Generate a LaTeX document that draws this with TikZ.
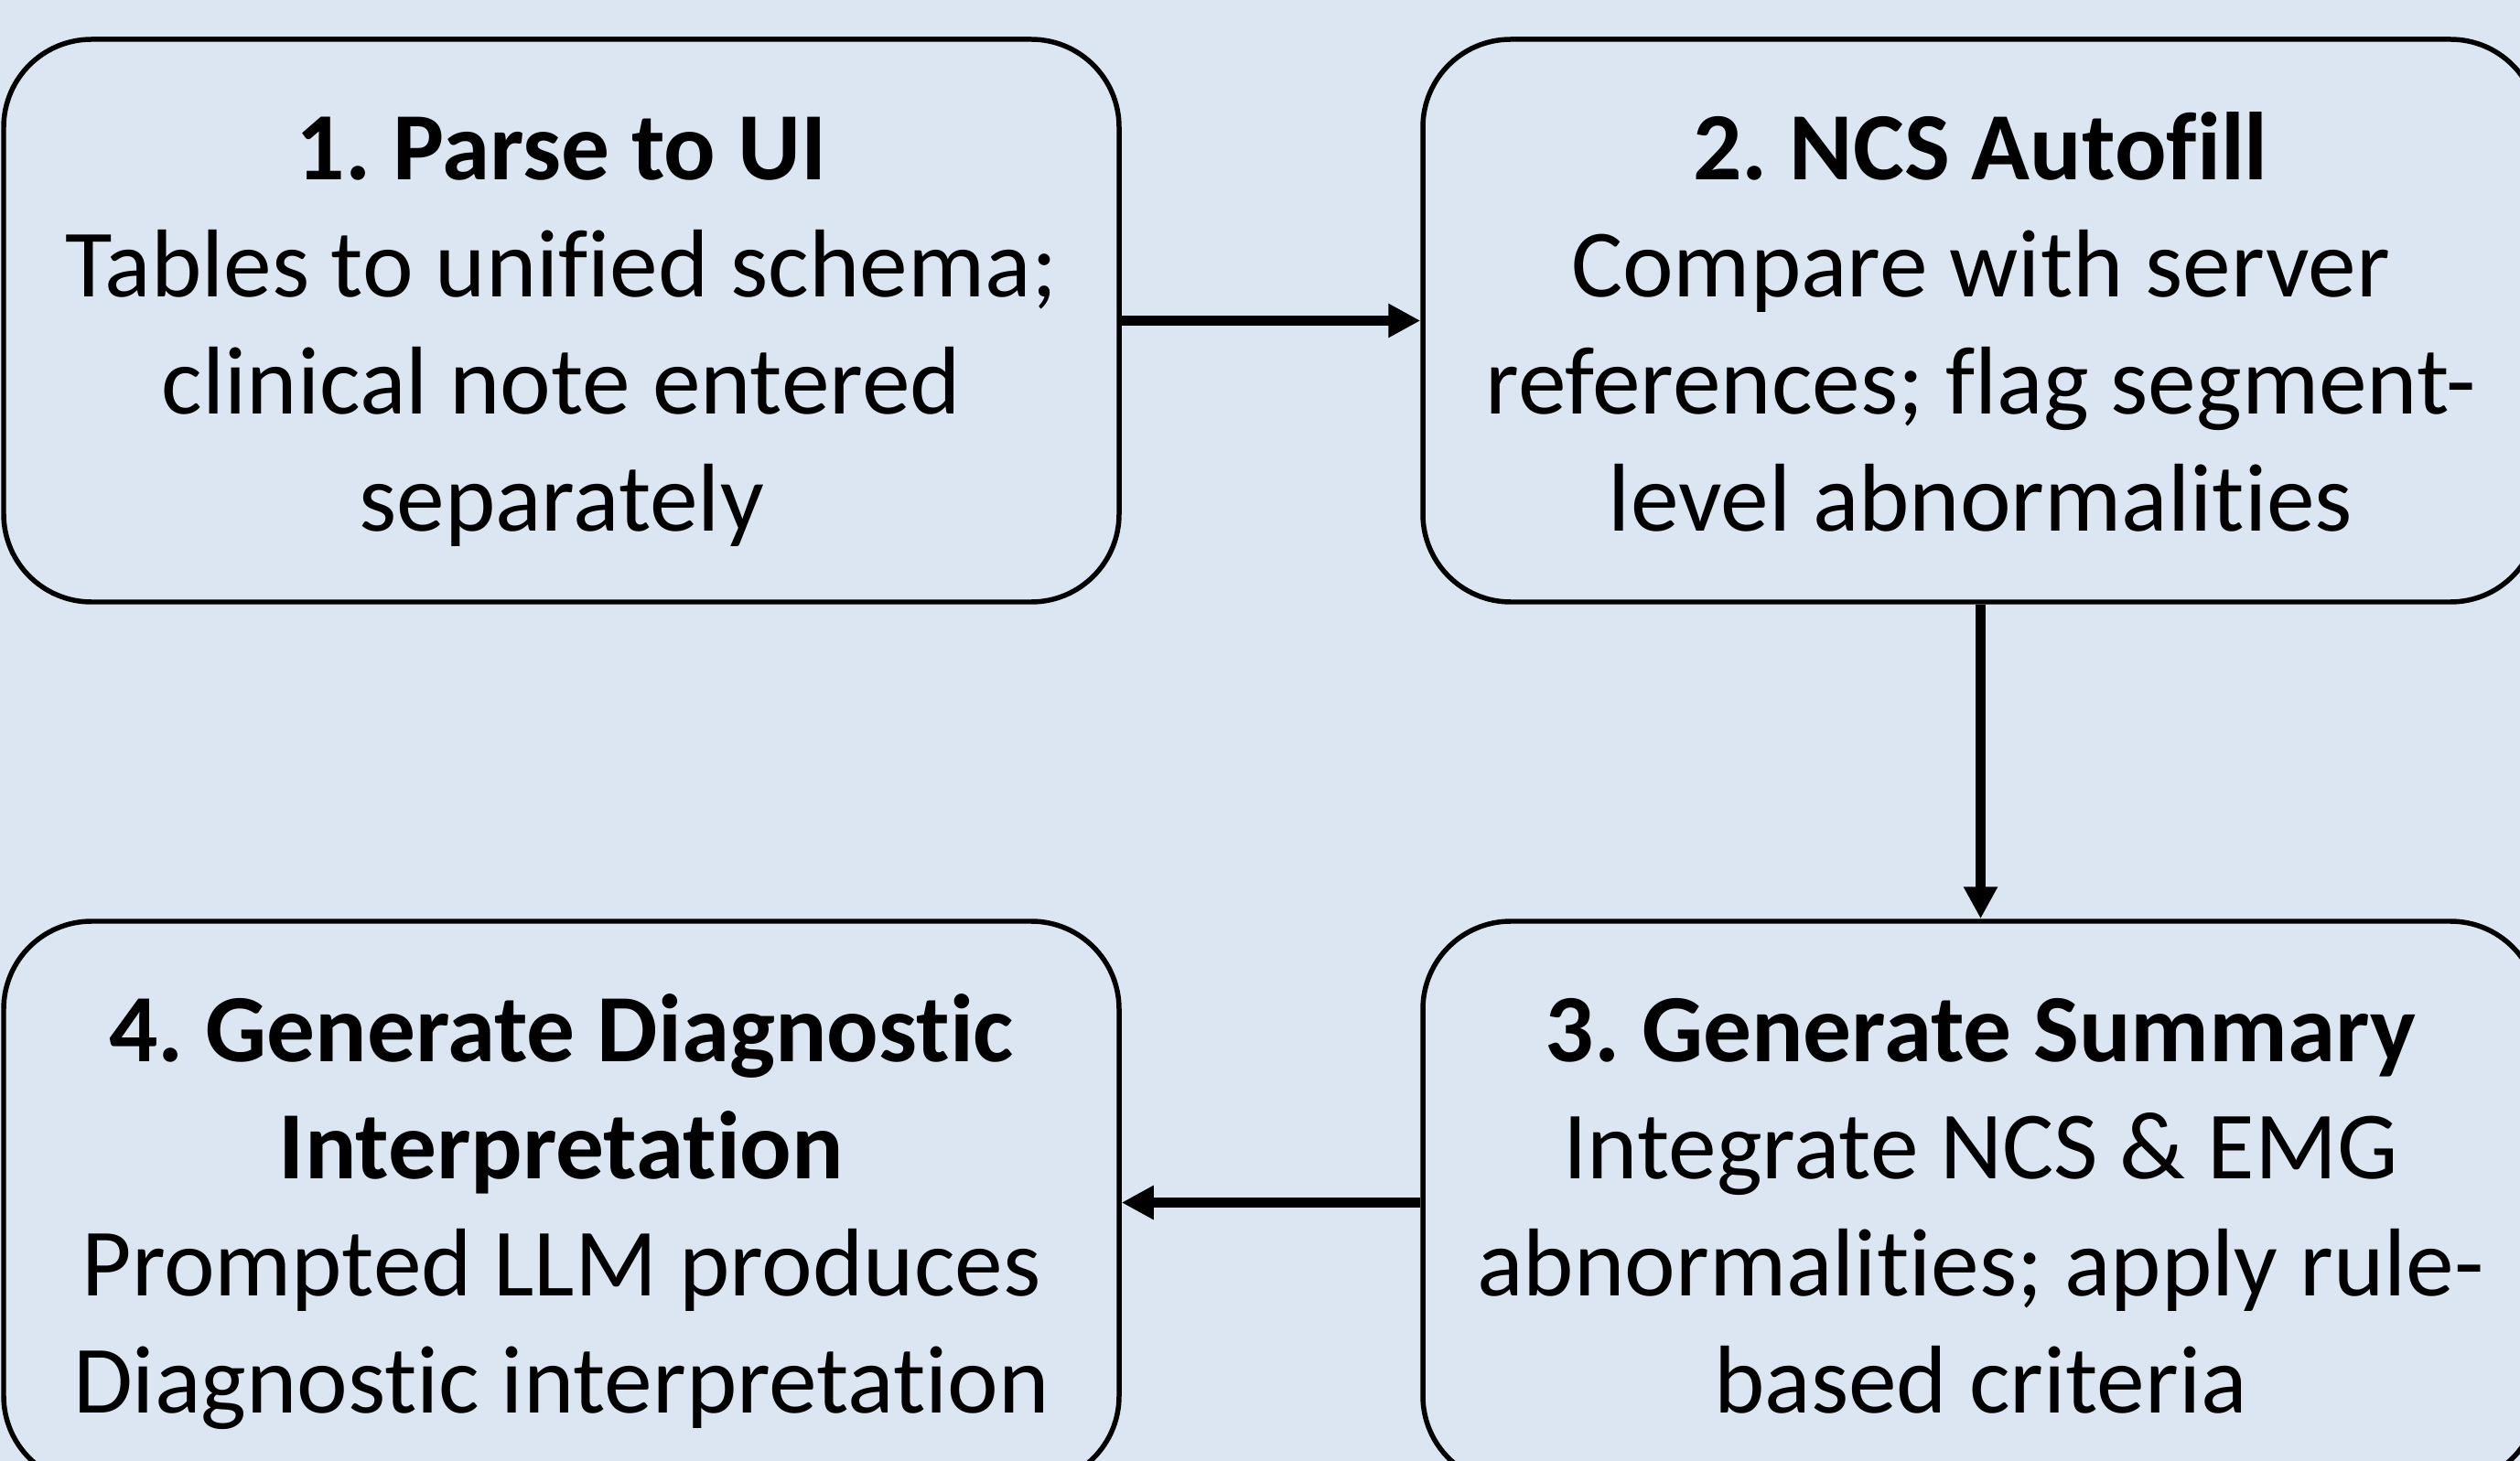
\documentclass[tikz,border=0pt]{standalone}
\usepackage{fontspec}
\setmainfont{Carlito}[Ligatures={NoCommon}]
\usetikzlibrary{arrows.meta}
\definecolor{bgblue}{HTML}{DCE6F2}
\frenchspacing
\newcommand{\tstrut}{\rule{0pt}{1.15cm}}
\newcommand{\bstrut}{\rule[-0.385cm]{0pt}{0.385cm}}

\tikzset{
  stepbox/.style={draw=black, fill=bgblue, line width=1.56pt, rounded corners=0.96cm,
    minimum width=12.19cm, minimum height=6.15cm, align=center,
    font=\fontsize{30}{36.4}\selectfont},
  flow/.style={line width=3.1pt, -{Triangle[length=0.35cm,width=0.35cm]}}
}

\begin{document}
\begin{tikzpicture}
\fill[bgblue] (0,0) rectangle (27.54,-15.97) ;
\useasboundingbox (0,0) rectangle (27.54,-15.97) ;

\node[stepbox] (parse) at (6.135,-3.505) {\tstrut\textbf{1. Parse to UI}\\Tables to unified schema;\\clinical note entered\\separately\bstrut} ;
\node[stepbox] (ncs) at (21.645,-3.505) {\tstrut\textbf{2. NCS Autofill}\\Compare with server\\references; flag segment-\\level abnormalities\bstrut} ;
\node[stepbox] (summary) at (21.645,-13.145) {\tstrut\textbf{3. Generate Summary}\\Integrate NCS \& EMG\\abnormalities; apply rule-\\based criteria\bstrut} ;
\node[stepbox] (diag) at (6.135,-13.145) {\tstrut\textbf{4. Generate Diagnostic}\\\textbf{Interpretation}\\Prompted LLM produces\\Diagnostic interpretation\bstrut} ;

\draw[flow] (parse) -- (ncs) ;
\draw[flow] (ncs) -- (summary) ;
\draw[flow] (summary) -- (diag) ;

\end{tikzpicture}
\end{document}
